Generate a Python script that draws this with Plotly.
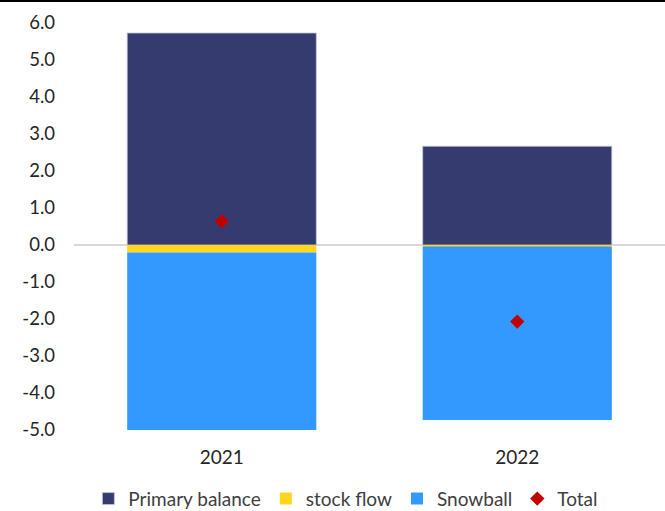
import plotly.graph_objects as go

years = ["2021", "2022"]
primary_balance = [5.73, 2.67]
stock_flow = [-0.2, -0.04]
snowball = [-4.83, -4.69]
total = [0.64, -2.07]
tick_vals = [6, 5, 4, 3, 2, 1, 0, -1, -2, -3, -4, -5]
tick_text = ["6.0", "5.0", "4.0", "3.0", "2.0", "1.0", "0.0", "-1.0", "-2.0", "-3.0", "-4.0", "-5.0"]

font_family = "Lato, 'Open Sans', sans-serif"
edge = dict(color="rgba(200,200,215,0.8)", width=1)

fig = go.Figure()
fig.add_trace(go.Bar(name="Primary balance", x=years, y=primary_balance,
                     marker=dict(color="#353b6f", line=edge)))
fig.add_trace(go.Bar(name="stock flow", x=years, y=stock_flow,
                     marker=dict(color="#ffd520", line=dict(width=0))))
fig.add_trace(go.Bar(name="Snowball", x=years, y=snowball,
                     marker=dict(color="#3399ff", line=dict(width=0))))
fig.add_trace(go.Scatter(name="Total", x=years, y=total, mode="markers",
                         marker=dict(symbol="diamond", color="#c00000", size=11)))

fig.update_layout(
    width=665, height=511,
    barmode="relative",
    bargap=0.36,
    margin=dict(l=74, r=0, t=23, b=81, autoexpand=False),
    plot_bgcolor="white", paper_bgcolor="white",
    font=dict(family=font_family, size=19, color="#262626"),
    legend=dict(orientation="h", x=0.46, xanchor="center", y=0.024, yanchor="middle",
                yref="container", font=dict(size=19, color="#404040"),
                traceorder="normal", itemwidth=30, tracegroupgap=0),
    xaxis=dict(showgrid=False, showline=False, ticks="", tickfont=dict(size=19),
               ticklabelstandoff=14),
    yaxis=dict(range=[-5, 6], tickvals=tick_vals, ticktext=tick_text,
               showgrid=False, zeroline=True, zerolinecolor="#d9d9d9", zerolinewidth=1.5,
               showline=False, ticks="", ticklabelstandoff=18, tickfont=dict(size=18.5)),
    shapes=[dict(type="line", xref="paper", yref="paper", x0=-0.2, x1=1.1, y0=1.054, y1=1.054,
                 line=dict(color="black", width=2))],
)

fig.write_html("out.html")
